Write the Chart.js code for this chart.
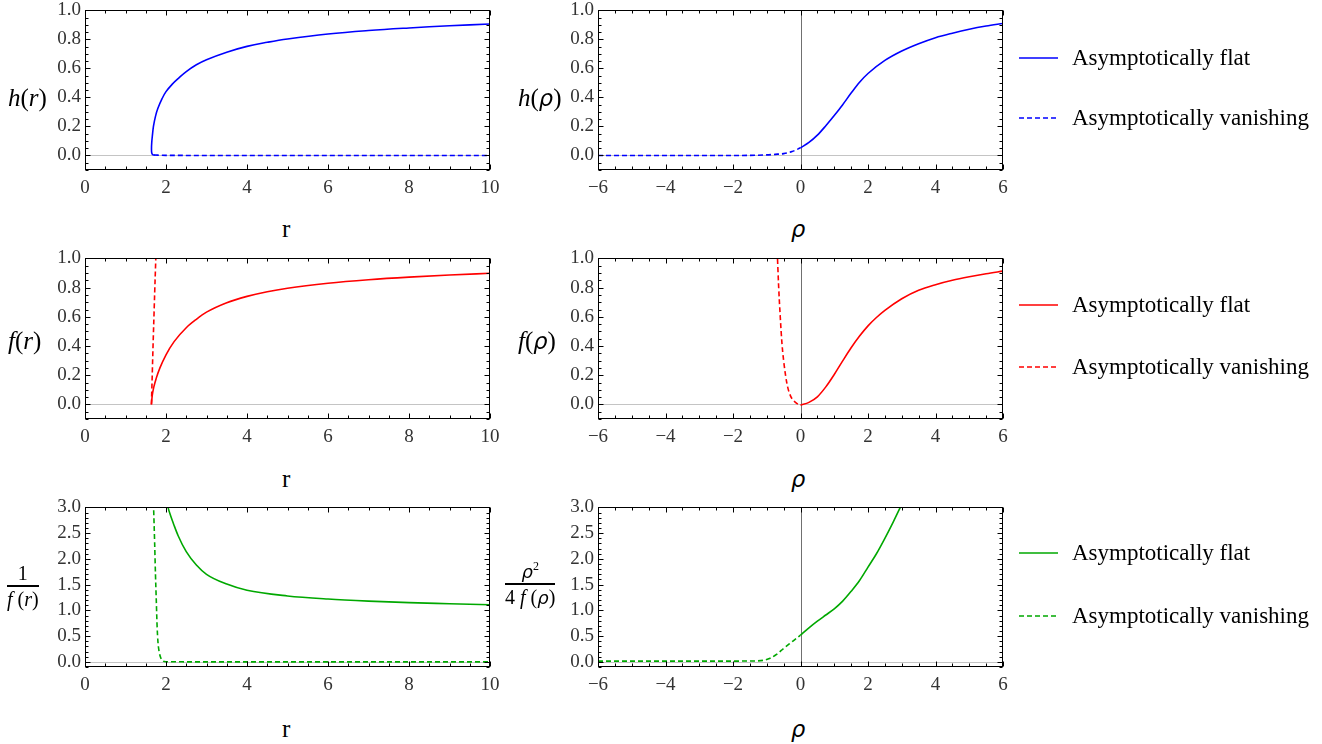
<!DOCTYPE html>
<html>
<head>
<meta charset="utf-8">
<script src="https://cdn.jsdelivr.net/npm/chart.js@4.4.0/dist/chart.umd.min.js"></script>
<style>
  body { margin: 0; background: #fff; width: 1322px; height: 744px; position: relative; overflow: hidden;
         font-family: "Liberation Serif", "DejaVu Serif", serif; }
  canvas { position: absolute; }
  .t { position: absolute; color: #000; white-space: nowrap; line-height: 1; }
  .ax { font-size: 25px; }
  .rho { font-family: "DejaVu Sans", sans-serif; font-style: italic; font-size: 0.9em; }
  .frac { position: absolute; font-size: 20px; text-align: center; line-height: 1; }
  .frac .num { border-bottom: 2px solid #000; padding: 0 3px 2px; }
  .frac .den { padding-top: 2px; }
  .leg { position: absolute; font-size: 23px; line-height: 1; }
  .leg svg { position: absolute; left: 0; top: 0; }
  .leg span { position: absolute; left: 53px; top: -12px; white-space: nowrap; }
</style>
</head>
<body>
<script>
// tick values and labels
const rTicks = [0, 2, 4, 6, 8, 10];
const rTickLabels = ['0', '2', '4', '6', '8', '10'];
const rhoTicks = [-6, -4, -2, 0, 2, 4, 6];
const rhoTickLabels = ['\u22126', '\u22124', '\u22122', '0', '2', '4', '6'];
const unitTicks = [0, 0.2, 0.4, 0.6, 0.8, 1.0];
const unitTickLabels = ['0.0', '0.2', '0.4', '0.6', '0.8', '1.0'];
const invTicks = [0, 0.5, 1.0, 1.5, 2.0, 2.5, 3.0];
const invTickLabels = ['0.0', '0.5', '1.0', '1.5', '2.0', '2.5', '3.0'];

// h(r)
const hrFlatR = [1.72, 1.67, 1.648, 1.642, 1.648, 1.665, 1.69, 1.74, 1.8, 1.9, 2.0, 2.15, 2.3, 2.5, 2.75, 3.0, 3.5, 4.0, 4.5, 5, 6, 7, 8, 9, 10];
const hrFlatH = [0.002, 0.006, 0.018, 0.05, 0.09, 0.14, 0.2, 0.27, 0.325, 0.39, 0.44, 0.49, 0.53, 0.578, 0.625, 0.66, 0.712, 0.752, 0.78, 0.803, 0.837, 0.861, 0.879, 0.894, 0.906];
const hrVanR = [1.70, 2.0, 4, 7, 10];
const hrVanH = [0.003, 0.001, 0, 0, 0];

// h(rho)
const hpFlatX = [0, 0.25, 0.5, 0.75, 1.0, 1.25, 1.5, 1.75, 2.0, 2.5, 3.0, 3.5, 4.0, 4.5, 5.0, 5.5, 6.0];
const hpFlatY = [0.053, 0.09, 0.14, 0.205, 0.275, 0.35, 0.43, 0.505, 0.565, 0.655, 0.72, 0.77, 0.812, 0.843, 0.87, 0.892, 0.91];
const hpVanX = [-6, -4, -2, -1.25, -1, -0.75, -0.5, -0.25, 0];
const hpVanY = [0, 0, 0, 0.002, 0.004, 0.008, 0.013, 0.027, 0.053];

// f(r)
const frFlatR = [1.64, 1.66, 1.7, 1.76, 1.85, 2.0, 2.2, 2.5, 2.75, 3.0, 3.5, 4.0, 4.5, 5, 6, 7, 8, 9, 10];
const frFlatF = [0, 0.06, 0.12, 0.18, 0.25, 0.34, 0.43, 0.525, 0.583, 0.632, 0.697, 0.74, 0.772, 0.796, 0.83, 0.854, 0.872, 0.886, 0.898];
const frVanR = [1.64, 1.66, 1.68, 1.70, 1.72, 1.74, 1.76];
const frVanF = [0, 0.2, 0.4, 0.58, 0.76, 0.93, 1.1];

// f(rho)
const fpFlatX = [0, 0.25, 0.5, 0.75, 1.0, 1.25, 1.5, 1.75, 2.0, 2.25, 2.5, 3.0, 3.5, 4.0, 4.5, 5.0, 5.5, 6.0];
const fpFlatY = [-0.005, 0.014, 0.052, 0.12, 0.205, 0.298, 0.388, 0.468, 0.538, 0.595, 0.644, 0.724, 0.782, 0.82, 0.85, 0.874, 0.895, 0.913];
const fpVanX = [-0.69, -0.65, -0.6, -0.55, -0.5, -0.4, -0.3, -0.2, -0.1, 0];
const fpVanY = [1.05, 0.82, 0.6, 0.42, 0.3, 0.14, 0.06, 0.025, 0.005, -0.005];

// 1/f(r)
const irFlatR = [2.02, 2.05, 2.1, 2.2, 2.3, 2.5, 2.75, 3.0, 3.5, 4.0, 5, 6, 7, 8, 9, 10];
const irFlatV = [3.1, 3.0, 2.87, 2.65, 2.45, 2.14, 1.88, 1.70, 1.51, 1.39, 1.28, 1.22, 1.18, 1.15, 1.13, 1.11];
const irVanR = [1.69, 1.72, 1.74, 1.76, 1.78, 1.80, 1.83, 1.87, 1.92, 2.0, 3, 5, 10];
const irVanV = [3.1, 2.3, 1.7, 1.2, 0.7, 0.4, 0.2, 0.08, 0.02, 0.003, 0, 0, 0];

// rho^2 / 4f(rho)
const ipFlatX = [0, 0.25, 0.5, 0.75, 1.0, 1.25, 1.5, 1.75, 2.0, 2.25, 2.5, 2.75, 3.0];
const ipFlatY = [0.52, 0.66, 0.79, 0.91, 1.03, 1.18, 1.37, 1.58, 1.84, 2.1, 2.4, 2.72, 3.06];
const ipVanX = [-6, -4, -2, -1.4, -1.1, -0.9, -0.7, -0.5, -0.25, 0];
const ipVanY = [0.015, 0.015, 0.015, 0.017, 0.03, 0.07, 0.15, 0.26, 0.39, 0.52];

const BLUE = '#0000ff', RED = '#ff0000', GREEN = '#00a800';
const DASH = [5, 3];
const SERIF = '"Liberation Serif", "DejaVu Serif", serif';

function pts(xs, ys) { return xs.map((x, i) => ({ x: x, y: ys[i] })); }
function line(xs, ys, color, dashed, bezier) {
  const ds = { data: pts(xs, ys), borderColor: color, borderWidth: 1.6, borderDash: dashed ? DASH : [],
               pointRadius: 0, fill: false };
  if (bezier) ds.tension = 0.4; else ds.cubicInterpolationMode = 'monotone';
  return ds;
}

// axes, frame and inward ticks in the Mathematica style
const framePlugin = {
  id: 'frame',
  beforeDatasetsDraw(chart, args, o) {
    const { ctx, chartArea: a, scales: { x, y } } = chart;
    ctx.save();
    ctx.lineWidth = 1;
    ctx.strokeStyle = '#c4c4c4';
    const y0 = Math.round(y.getPixelForValue(0)) + 0.5;
    ctx.beginPath(); ctx.moveTo(a.left, y0); ctx.lineTo(a.right, y0); ctx.stroke();
    if (o.vAxis) {
      ctx.strokeStyle = '#707070';
      const x0 = Math.round(x.getPixelForValue(0)) + 0.5;
      ctx.beginPath(); ctx.moveTo(x0, a.top); ctx.lineTo(x0, a.bottom); ctx.stroke();
    }
    ctx.restore();
  },
  afterDatasetsDraw(chart, args, o) {
    const { ctx, chartArea: a, scales: { x, y } } = chart;
    ctx.save();
    ctx.strokeStyle = '#000';
    ctx.lineWidth = 1;
    const L = Math.round(a.left) + 0.5, R = Math.round(a.right) - 0.5;
    const T = Math.round(a.top) + 0.5, B = Math.round(a.bottom) - 0.5;
    ctx.strokeRect(L, T, R - L, B - T);
    ctx.beginPath();
    const kx0 = Math.ceil(x.min / o.xMinor - 1e-9), kx1 = Math.floor(x.max / o.xMinor + 1e-9);
    for (let k = kx0; k <= kx1; k++) {
      const v = k * o.xMinor;
      const major = Math.abs(v / o.xMajor - Math.round(v / o.xMajor)) < 1e-6;
      const len = major ? 5 : 3;
      const px = Math.round(x.getPixelForValue(v)) + 0.5;
      ctx.moveTo(px, B); ctx.lineTo(px, B - len);
      ctx.moveTo(px, T); ctx.lineTo(px, T + len);
    }
    const ky0 = Math.ceil(y.min / o.yMinor - 1e-9), ky1 = Math.floor(y.max / o.yMinor + 1e-9);
    for (let k = ky0; k <= ky1; k++) {
      const v = k * o.yMinor;
      const major = Math.abs(v / o.yMajor - Math.round(v / o.yMajor)) < 1e-6;
      const len = major ? 5 : 3;
      const py = Math.round(y.getPixelForValue(v)) + 0.5;
      ctx.moveTo(L, py); ctx.lineTo(L + len, py);
      ctx.moveTo(R, py); ctx.lineTo(R - len, py);
    }
    ctx.stroke();
    ctx.restore();
  }
};

const COL_L = 85, COL_R = 598, FW = 405;
const ROWS = [{ top: 9, h: 161 }, { top: 257, h: 162 }, { top: 506, h: 161 }];
const Y_W = 60, PAD_T = 14, PAD_R = 20, X_H = 40;

const panels = [
  { left: COL_L, row: 0, xMin: 0, xMax: 10, yMin: -0.1, yMax: 1, xt: rTicks, xl: rTickLabels, yt: unitTicks, yl: unitTickLabels,
    yMajor: 0.2, yMinor: 0.05, vAxis: false,
    sets: [line(hrFlatR, hrFlatH, BLUE, false, true), line(hrVanR, hrVanH, BLUE, true)] },
  { left: COL_R, row: 0, xMin: -6, xMax: 6, yMin: -0.1, yMax: 1, xt: rhoTicks, xl: rhoTickLabels, yt: unitTicks, yl: unitTickLabels,
    yMajor: 0.2, yMinor: 0.05, vAxis: true,
    sets: [line(hpFlatX, hpFlatY, BLUE, false), line(hpVanX, hpVanY, BLUE, true)] },
  { left: COL_L, row: 1, xMin: 0, xMax: 10, yMin: -0.1, yMax: 1, xt: rTicks, xl: rTickLabels, yt: unitTicks, yl: unitTickLabels,
    yMajor: 0.2, yMinor: 0.05, vAxis: false,
    sets: [line(frFlatR, frFlatF, RED, false), line(frVanR, frVanF, RED, true)] },
  { left: COL_R, row: 1, xMin: -6, xMax: 6, yMin: -0.1, yMax: 1, xt: rhoTicks, xl: rhoTickLabels, yt: unitTicks, yl: unitTickLabels,
    yMajor: 0.2, yMinor: 0.05, vAxis: true,
    sets: [line(fpFlatX, fpFlatY, RED, false), line(fpVanX, fpVanY, RED, true)] },
  { left: COL_L, row: 2, xMin: 0, xMax: 10, yMin: -0.1, yMax: 3, xt: rTicks, xl: rTickLabels, yt: invTicks, yl: invTickLabels,
    yMajor: 0.5, yMinor: 0.1, vAxis: false,
    sets: [line(irFlatR, irFlatV, GREEN, false), line(irVanR, irVanV, GREEN, true)] },
  { left: COL_R, row: 2, xMin: -6, xMax: 6, yMin: -0.1, yMax: 3, xt: rhoTicks, xl: rhoTickLabels, yt: invTicks, yl: invTickLabels,
    yMajor: 0.5, yMinor: 0.1, vAxis: true,
    sets: [line(ipFlatX, ipFlatY, GREEN, false), line(ipVanX, ipVanY, GREEN, true)] }
];

const tickFont = { family: SERIF, size: 19 };

panels.forEach(p => {
  const row = ROWS[p.row];
  const cv = document.createElement('canvas');
  const w = Y_W + FW + PAD_R, h = PAD_T + row.h + X_H;
  cv.width = w; cv.height = h;
  cv.style.left = (p.left - Y_W) + 'px';
  cv.style.top = (row.top - PAD_T) + 'px';
  cv.style.width = w + 'px'; cv.style.height = h + 'px';
  document.body.appendChild(cv);

  new Chart(cv, {
    type: 'line',
    data: { datasets: p.sets },
    plugins: [framePlugin],
    options: {
      responsive: false,
      animation: false,
      layout: { padding: { top: PAD_T, right: PAD_R, left: 0, bottom: 0 } },
      plugins: {
        legend: { display: false },
        tooltip: { enabled: false },
        frame: { vAxis: p.vAxis, xMajor: 2, xMinor: 0.5, yMajor: p.yMajor, yMinor: p.yMinor }
      },
      scales: {
        x: {
          type: 'linear', min: p.xMin, max: p.xMax,
          grid: { display: false, drawTicks: false }, border: { display: false },
          afterBuildTicks: s => { s.ticks = p.xt.map(v => ({ value: v })); },
          afterFit: s => { s.height = X_H; },
          ticks: { autoSkip: false, maxRotation: 0, padding: 7, color: '#333', font: tickFont,
                   callback: (v, i) => p.xl[i] }
        },
        y: {
          type: 'linear', min: p.yMin, max: p.yMax,
          grid: { display: false, drawTicks: false }, border: { display: false },
          afterBuildTicks: s => { s.ticks = p.yt.map(v => ({ value: v })); },
          afterFit: s => { s.width = Y_W; },
          ticks: { autoSkip: false, padding: 4, color: '#333', font: tickFont,
                   callback: (v, i) => p.yl[i] }
        }
      }
    }
  });
});

// text labels
function addHTML(html) {
  const d = document.createElement('div');
  d.innerHTML = html;
  while (d.firstChild) document.body.appendChild(d.firstChild);
}
const rh = '<span class="rho">\u03C1</span>';
addHTML(
  '<div class="t ax" style="left:8px;top:85px"><i>h</i>(<i>r</i>)</div>' +
  '<div class="t ax" style="left:518px;top:85px"><i>h</i>(' + rh + ')</div>' +
  '<div class="t ax" style="left:8px;top:328px"><i>f</i>(<i>r</i>)</div>' +
  '<div class="t ax" style="left:518px;top:328px"><i>f</i>(' + rh + ')</div>' +
  '<div class="frac" style="left:7px;top:563px"><div class="num">1</div><div class="den"><i>f</i> (<i>r</i>)</div></div>' +
  '<div class="frac" style="left:505px;top:560px"><div class="num">' + rh + '<sup style="font-size:12px">2</sup></div><div class="den">4 <i>f</i> (' + rh + ')</div></div>' +
  '<div class="t ax" style="left:282px;top:216px">r</div>' +
  '<div class="t ax" style="left:791px;top:216px">' + rh + '</div>' +
  '<div class="t ax" style="left:282px;top:466px">r</div>' +
  '<div class="t ax" style="left:791px;top:466px">' + rh + '</div>' +
  '<div class="t ax" style="left:282px;top:716px">r</div>' +
  '<div class="t ax" style="left:791px;top:716px">' + rh + '</div>'
);

const legendRows = [
  { color: BLUE, y: [58, 118] },
  { color: RED, y: [305, 367] },
  { color: GREEN, y: [553, 616] }
];
const legendNames = ['Asymptotically flat', 'Asymptotically vanishing'];
legendRows.forEach(r => {
  legendNames.forEach((name, i) => {
    const dash = i === 1 ? ' stroke-dasharray="5,3"' : '';
    addHTML('<div class="leg" style="left:1019px;top:' + r.y[i] + 'px">' +
      '<svg width="40" height="4" style="top:-2px"><line x1="0" y1="2" x2="39" y2="2" stroke="' + r.color + '" stroke-width="1.6"' + dash + '/></svg>' +
      '<span>' + name + '</span></div>');
  });
});
</script>
</body>
</html>
